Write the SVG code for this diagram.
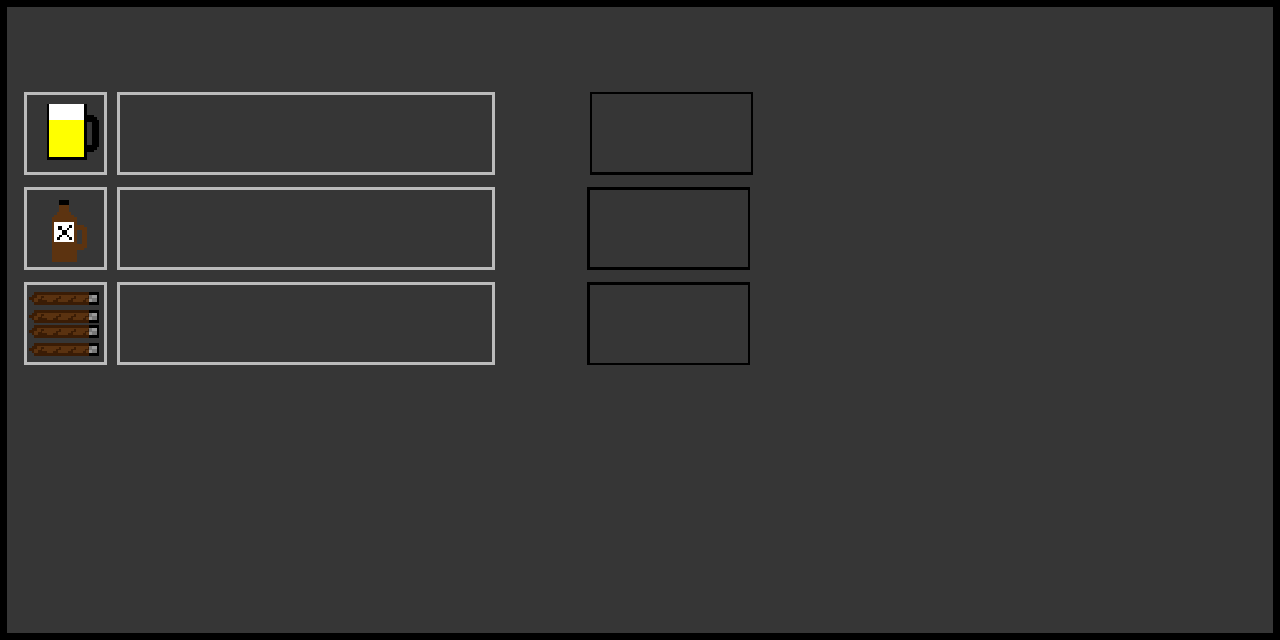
<svg xmlns="http://www.w3.org/2000/svg" width="1280" height="640" viewBox="0 0 1280 640" shape-rendering="crispEdges">
<style>
.cell{fill:none;stroke:#bbb;stroke-width:3}
.blk{fill:#000;fill-rule:evenodd}
.dk{fill:#3a1c05}
.md{fill:#5a3210}
.br{fill:#5c3310;fill-rule:evenodd}
</style>
<defs>
<g id="cigar">
<path class="dk" d="M34 0H89V13H34V10H32V8H29V5H32V3H34Z"/>
<path class="md" d="M34 3H89V10H34Z"/>
<path class="dk" d="M34 3H37V6H34ZM38 10V7H41V4H44V6H42V8H47V10ZM53 10V8H56V6H59V4H61V7H58V10ZM68 10V8H71V6H74V4H76V7H73V10ZM83 10V8H85V6H88V4H89V7H86V10Z"/>
<rect class="blk" x="89" y="0" width="10" height="13"/>
<rect x="89" y="3" width="8" height="7" fill="#777"/>
<rect x="92" y="3" width="5" height="3" fill="#999"/>
<rect x="89" y="7" width="3" height="3" fill="#999"/>
</g>
</defs>
<rect width="1280" height="640" fill="#000"/>
<rect x="7" y="7" width="1266" height="626" fill="#363636"/>
<g id="beer-cell">
<rect class="cell" x="25.5" y="93.5" width="80" height="80"/>
<path class="blk" d="M47 104H87V115H94V117H97V120H99V147H97V150H94V152H87V160H47ZM87 122V145H92V122Z"/>
<rect x="49" y="104" width="35" height="16" fill="#fff"/>
<rect x="49" y="120" width="35" height="37" fill="#ff0"/>
</g>
<g id="beer-bar"><rect class="cell" x="118.5" y="93.5" width="375" height="80"/></g>
<g id="beer-slot"><path class="blk" d="M590 92H753V175H590ZM592 94V172H751V94Z"/></g>
<g id="jug-cell">
<rect class="cell" x="25.5" y="188.5" width="80" height="80"/>
<rect x="59" y="200" width="10" height="5" fill="#000"/>
<path class="br" d="M59 205H69V212H71V215H74V217H77V225H84V227H87V248H84V250H77V262H52V217H54V215H57V212H59ZM77 230V244H82V230Z"/>
<rect x="54" y="222" width="20" height="20" fill="#fff"/>
<path fill="#000" d="M62 230H67V235H62ZM58 226H62V230H58ZM67 228H69V230H67ZM69 225H72V228H69ZM59 235H62V237H59ZM57 237H60V240H57ZM67 235H69V237H67ZM69 237H72V240H69Z"/>
</g>
<g id="jug-bar"><rect class="cell" x="118.5" y="188.5" width="375" height="80"/></g>
<g id="jug-slot"><path class="blk" d="M587 187H750V270H587ZM590 190V267H748V190Z"/></g>
<g id="cigar-cell">
<rect class="cell" x="25.5" y="283.5" width="80" height="80"/>
<use href="#cigar" y="292"/>
<use href="#cigar" y="310"/>
<use href="#cigar" y="325"/>
<use href="#cigar" y="343"/>
</g>
<g id="cigar-bar"><rect class="cell" x="118.5" y="283.5" width="375" height="80"/></g>
<g id="cigar-slot"><path class="blk" d="M587 282H750V365H587ZM590 285V363H748V285Z"/></g>
<g id="connectors"/>
</svg>
